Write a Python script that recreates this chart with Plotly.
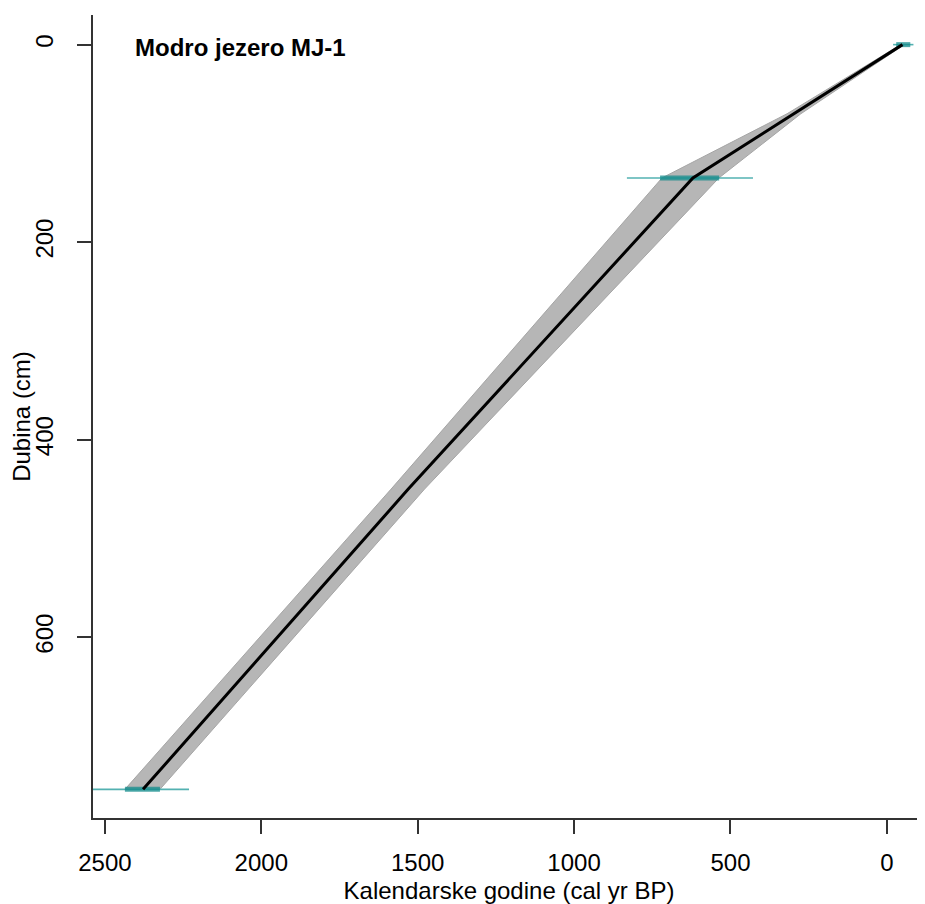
import plotly.graph_objects as go

# Age-depth model (depth in cm, calendar age cal yr BP)
model_depth = [0, 135, 450, 754]
model_age = [-50, 620, 1530, 2378]

band_depth = [0, 70, 135, 450, 754]
band_young = [-56, 275, 537, 1478, 2324]
band_old = [-44, 319, 719, 1585, 2436]

# Calibrated dates: depth, 95% range (thin), high-probability range (thick)
date_depth = [0, 135, 754]
date_thin_lo = [-85, 428, 2231]
date_thin_hi = [-20, 831, 2545]
date_thick_lo = [-75, 536, 2324]
date_thick_hi = [-30, 725, 2436]

x_ticks = [2500, 2000, 1500, 1000, 500, 0]
y_ticks = [0, 200, 400, 600]

fig = go.Figure()

# grey uncertainty band
fig.add_trace(go.Scatter(
    x=band_young + band_old[::-1],
    y=band_depth + band_depth[::-1],
    fill="toself", fillcolor="rgb(182,182,182)",
    line=dict(color="rgb(165,165,165)", width=1),
    mode="lines", hoverinfo="skip", showlegend=False))

# dates
for d, a0, a1 in zip(date_depth, date_thin_lo, date_thin_hi):
    fig.add_trace(go.Scatter(x=[a0, a1], y=[d, d], mode="lines",
                             line=dict(color="rgba(64,168,168,0.9)", width=1.6),
                             showlegend=False, hoverinfo="skip"))
for d, a0, a1 in zip(date_depth, date_thick_lo, date_thick_hi):
    fig.add_trace(go.Scatter(x=[a0, a1], y=[d, d], mode="lines",
                             line=dict(color="rgba(20,140,140,0.75)", width=5),
                             showlegend=False, hoverinfo="skip"))

# best model line
fig.add_trace(go.Scatter(x=model_age, y=model_depth, mode="lines",
                         line=dict(color="black", width=3),
                         showlegend=False, hoverinfo="skip"))

font = "Liberation Sans, Arial, sans-serif"

# page body has an 8px margin; figure occupies 917x896 starting at (8,8)
L, T, W, H = 85, 7, 832, 803
fig.update_layout(
    width=917, height=896,
    margin=dict(l=L, r=0, t=T, b=86),
    paper_bgcolor="white", plot_bgcolor="white",
    font=dict(family=font, size=24, color="black"),
    showlegend=False,
    xaxis=dict(range=[2538, -122], tickvals=x_ticks, ticktext=[str(v) for v in x_ticks],
               showgrid=False, zeroline=False, showline=True, linecolor="#333", linewidth=2,
               ticks="outside", ticklen=14, tickwidth=2, tickcolor="#333",
               ticklabelstandoff=8,
               title=dict(text="Kalendarske godine (cal yr BP)", standoff=7,
                          font=dict(size=24))),
    yaxis=dict(range=[783, -30], tickvals=y_ticks, ticktext=[str(v) for v in y_ticks],
               showgrid=False, zeroline=False, showline=True, linecolor="#333", linewidth=2,
               ticks="outside", ticklen=14, tickwidth=2, tickcolor="#333",
               tickangle=-90, ticklabelstandoff=14,
               title=dict(text="Dubina (cm)", standoff=2, font=dict(size=24))),
    annotations=[dict(text="<b>Modro jezero MJ-1</b>", xref="paper", yref="paper",
                      x=(125 - L) / W, y=1 - (39 - T) / H, xanchor="left", yanchor="middle",
                      showarrow=False, font=dict(size=24, family=font))],
)

fig.write_html("out.html")
